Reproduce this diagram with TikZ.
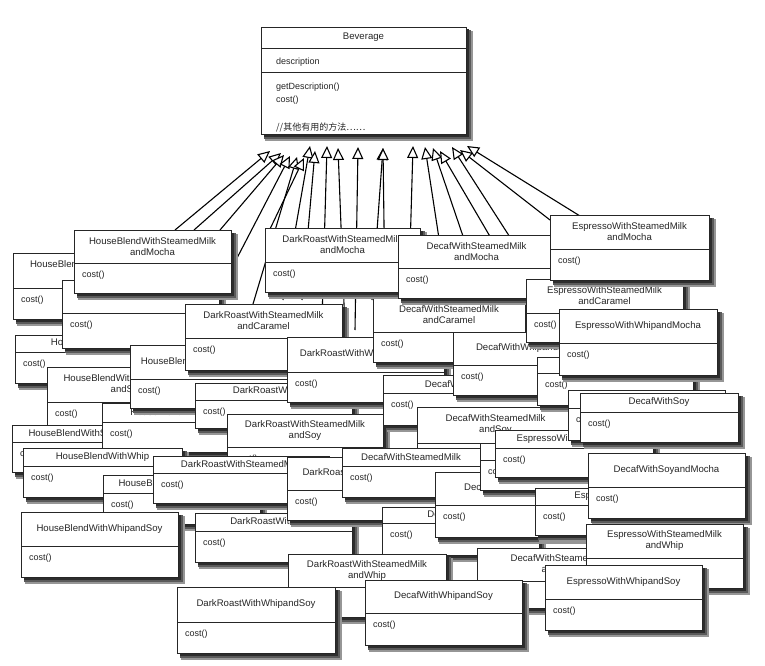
\documentclass[tikz,border=0pt]{standalone}
\usepackage{fontspec}
\setmainfont{Liberation Sans}
\newfontfamily\cjkf{Noto Sans CJK SC}
\usetikzlibrary{arrows.meta,calc}
\definecolor{shdark}{RGB}{45,45,45}
\definecolor{shmid}{RGB}{90,90,90}
\definecolor{shlight}{RGB}{150,150,150}
\tikzset{
 ubox/.style={draw=black!85, line width=0.8pt, fill=white, anchor=north west, inner sep=0pt, outer sep=0pt},
 ttl/.style={font=\fontsize{9.6}{11}\selectfont, align=center, inner sep=0pt, text=black!85},
 mth/.style={font=\fontsize{9}{10}\selectfont, anchor=west, inner sep=0pt, text=black!85},
 inh/.style={line width=1.1pt, -{Triangle[fill=white, length=12pt, width=11pt]}},
 divl/.style={line width=0.7pt, black!85},
}
\newcommand\mkbox[7]{%
  \path[fill=shlight] (#2+4,#3+4) rectangle (#2+#4+6.5,#3+#5+6.5);
  \path[fill=shmid] (#2+3,#3+3) rectangle (#2+#4+4.5,#3+#5+4.5);
  \path[fill=shdark] (#2+2.5,#3+2.5) rectangle (#2+#4+2.5,#3+#5+2.5);
  \node[ubox, minimum width=#4pt, minimum height=#5pt] (#1) at (#2,#3) {};
  \draw[divl] ($(#1.north west)+(0,#6)$) -- ($(#1.north east)+(0,#6)$);
  \node[ttl] (#1t) at ($(#1.north)+(0,#6/2)$) {#7};
  \node[mth] (#1m) at ($(#1.north west)+(8,#6+12.5)$) {cost()};
}
\begin{document}
\begin{tikzpicture}[x=1pt,y=-1pt]
\path[fill=white] (0,0) rectangle (765,666);
% inheritance connectors
\foreach \tx/\ty/\ex/\ey [count=\i] in {270/151/175/230, 281/153/194/230, 284/155/220/230, 290/156/236/260,
  297/157/253/304, 304/158/270/229, 310/146/283/300, 315/151/302/300, 327/146/322/320, 338/148/345/330,
  358/147/355/330, 383/148/372/300, 383/148/385/300, 413/146/410/250, 425/147/440/245, 433/148/466/245,
  440/151/495/245, 452/147/515/245, 460/150/550/220, 467/146/580/216}{
  \coordinate (s\i) at (\ex,\ey);
  \coordinate (h\i) at (\tx,\ty);
  \draw[inh] (s\i) -- (h\i);
}
% subclass boxes, back to front
\mkbox{E}{13}{253}{161}{66}{35}{HouseBlendWithSteamedMilk\\andWhip}
\mkbox{I}{15}{335}{160}{48}{17}{HouseBlendWithSoy}
\mkbox{F}{62}{280}{157}{68}{33}{}
\mkbox{J}{47}{367}{160}{63}{35}{HouseBlendWithSteamedMilk\\andSoy}
\mkbox{L}{12}{425}{160}{47}{17}{HouseBlendWithSteamedMilk}
\mkbox{K}{102}{403}{157}{49}{19}{HouseBlendWithMocha}
\mkbox{H}{130}{345}{160}{63}{34}{HouseBlendWithWhipandMocha}
\mkbox{M}{23}{448}{159}{49}{18}{HouseBlendWithWhip}
\mkbox{N}{103}{475}{157}{49}{18}{HouseBlendWithSoyandWhip}
\mkbox{O}{21}{512}{157}{65}{34}{HouseBlendWithWhipandSoy}
\mkbox{A}{74}{230}{157}{63}{33}{HouseBlendWithSteamedMilk\\andMocha}
\mkbox{G}{185}{304}{157}{66}{34}{DarkRoastWithSteamedMilk\\andCaramel}
\mkbox{X}{195}{383}{157}{45}{17}{DarkRoastWithSoy}
\mkbox{Y}{287}{337}{157}{65}{35}{DarkRoastWithWhipandMocha}
\mkbox{Z}{373}{298}{152}{64}{34}{DecafWithSteamedMilk\\andCaramel}
\mkbox{W}{227}{414}{156}{62}{33}{DarkRoastWithSteamedMilk\\andSoy}
\mkbox{P}{153}{456}{176}{47}{17}{DarkRoastWithSteamedMilk}
\mkbox{S}{195}{513}{157}{49}{18}{DarkRoastWithWhip}
\mkbox{Q}{287}{457}{157}{63}{33}{DarkRoastWithSoyandMocha}
\mkbox{AK}{383}{375}{157}{50}{18}{DecafWithMocha}
\mkbox{AA}{453}{332}{157}{63}{33}{DecafWithWhipandMocha}
\mkbox{AJ}{417}{407}{157}{52}{36}{DecafWithSteamedMilk\\andSoy}
\mkbox{R}{342}{448}{138}{49}{18}{DecafWithSteamedMilk}
\mkbox{AN}{382}{507}{157}{48}{16}{DecafWithWhip}
\mkbox{AM}{435}{472}{157}{65}{33}{DecafWithSoyandWhip}
\mkbox{AQ}{480}{443}{157}{47}{17}{DecafWithSoyandCaramel}
\mkbox{B}{265}{228}{155}{64}{34}{DarkRoastWithSteamedMilk\\andMocha}
\mkbox{C}{398}{235}{157}{63}{33}{DecafWithSteamedMilk\\andMocha}
\mkbox{AB}{526}{279}{157}{63}{34}{EspressoWithSteamedMilk\\andCaramel}
\mkbox{AD}{537}{357}{156}{48}{16}{EspressoWithMocha}
\mkbox{AC}{559}{309}{158}{66}{34}{EspressoWithWhipandMocha}
\mkbox{D}{550}{215}{159}{65}{34}{EspressoWithSteamedMilk\\andMocha}
\mkbox{AI}{495}{430}{158}{47}{18}{EspressoWithSteamedMilk}
\mkbox{AE}{568}{390}{157}{50}{18}{EspressoWithSoy}
\mkbox{AS}{580}{393}{158}{49}{19}{DecafWithSoy}
\mkbox{AR}{535}{488}{160}{47}{17}{EspressoWithWhip}
\mkbox{AF}{588}{453}{157}{65}{34}{DecafWithSoyandMocha}
\mkbox{AO}{477}{548}{167}{60}{33}{DecafWithSteamedMilk\\andWhip}
\mkbox{AG}{586}{524}{157}{64}{34}{EspressoWithSteamedMilk\\andWhip}
\mkbox{T}{288}{554}{158}{63}{33}{DarkRoastWithSteamedMilk\\andWhip}
\mkbox{U}{177}{587}{158}{66}{35}{DarkRoastWithWhipandSoy}
\mkbox{V}{365}{580}{157}{65}{33}{DecafWithWhipandSoy}
\mkbox{AH}{545}{565}{157}{65}{34}{EspressoWithWhipandSoy}
% superclass
\path[fill=shlight] (265,31) rectangle (472.5,140.5);
\path[fill=shmid] (264,30) rectangle (470.5,138.5);
\path[fill=shdark] (263.5,29.5) rectangle (468.5,136.5);
\node[ubox, minimum width=205pt, minimum height=107pt] (bev) at (261,27) {};
\draw[divl] ($(bev.north west)+(0,21)$) -- ($(bev.north east)+(0,21)$);
\draw[divl] ($(bev.north west)+(0,45)$) -- ($(bev.north east)+(0,45)$);
\node[ttl] (bevt) at ($(bev.north)+(0,10.5)$) {Beverage};
\node[mth] (bevd) at ($(bev.north west)+(15,35)$) {description};
\node[mth] (bevg) at ($(bev.north west)+(15,60)$) {getDescription()};
\node[mth] (bevc) at ($(bev.north west)+(15,73)$) {cost()};
\node[mth] (bevo) at ($(bev.north west)+(15,100)$) {\cjkf //其他有用的方法……};
\end{tikzpicture}
\end{document}
